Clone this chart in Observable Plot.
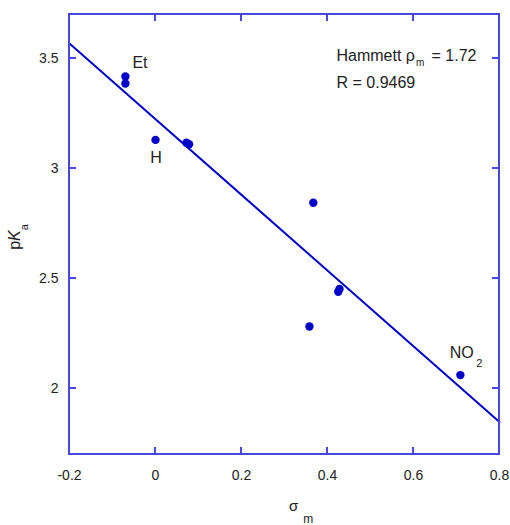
<!DOCTYPE html>
<html><head><meta charset="utf-8">
<script src="https://cdn.jsdelivr.net/npm/d3@7"></script>
<script src="https://cdn.jsdelivr.net/npm/@observablehq/plot@0.6"></script>
<style>body{margin:0;background:#fff;} svg{display:block}</style>
</head><body><div id="chart"></div>
<script>
// Data
const sigma = [-0.07, -0.07, 0, 0.072, 0.078, 0.367, 0.428, 0.425, 0.358, 0.709];
const pKa   = [3.418, 3.386, 3.13, 3.117, 3.11, 2.844, 2.452, 2.44, 2.282, 2.061];
const fitSigma = [-0.2, 0.8];
const fitPKa = [3.568, 1.848];
const labelNames = ["Et", "H", "NO"];
const labelSub = ["", "", "2"];
const labelSigma = [-0.07, 0, 0.709];
const labelPKa = [3.418, 3.13, 2.061];
const xTicks = [-0.2, 0, 0.2, 0.4, 0.6, 0.8];
const xTickLabels = ["-0.2", "0", "0.2", "0.4", "0.6", "0.8"];
const yTicks = [2, 2.5, 3, 3.5];
const yTickLabels = ["2", "2.5", "3", "3.5"];
const annotMain = ["Hammett \u03C1", "= 1.72", "R = 0.9469"];
const annotSub = ["m"];

const frameColor = "#4848e0";
const dataColor = "#0000c8";
const textColor = "#222";
const FONT = "'Liberation Sans', Arial, sans-serif";

const points = sigma.map((s, i) => ({s, p: pKa[i]}));
const fit = fitSigma.map((s, i) => ({s, p: fitPKa[i]}));
const labels = labelNames.map((n, i) => ({n, sub: labelSub[i], s: labelSigma[i], p: labelPKa[i]}));

const plot = Plot.plot({
  width: 510, height: 525,
  marginLeft: 69, marginRight: 11, marginTop: 14, marginBottom: 71,
  style: {fontFamily: FONT, fontSize: "14px", color: textColor, background: "#fff"},
  x: {domain: [-0.2, 0.8]},
  y: {domain: [1.7, 3.7]},
  marks: [
    Plot.axisX({anchor: "bottom", ticks: xTicks, tickSize: 0, tickPadding: 16, fill: textColor, label: null,
      tickFormat: d => xTickLabels[xTicks.indexOf(d)]}),
    Plot.axisY({anchor: "left", ticks: yTicks, tickSize: 0, tickPadding: 11, fill: textColor, label: null,
      tickFormat: d => yTickLabels[yTicks.indexOf(d)]}),
    Plot.line(fit, {x: "s", y: "p", stroke: dataColor, strokeWidth: 2}),
    Plot.dot(points, {x: "s", y: "p", r: 4.2, fill: dataColor, stroke: "none"}),
    // point labels
    Plot.text(labels.filter(d => d.n === "Et"), {x: "s", y: "p", text: "n", textAnchor: "start", dx: 7, dy: -14, fontSize: 16, fill: textColor}),
    Plot.text(labels.filter(d => d.n === "H"), {x: "s", y: "p", text: "n", textAnchor: "middle", dx: 0.5, dy: 18, fontSize: 16, fill: textColor}),
    Plot.text(labels.filter(d => d.n === "NO"), {x: "s", y: "p", text: "n", textAnchor: "start", dx: -10.7, dy: -22.7, fontSize: 16, fill: textColor}),
    Plot.text(labels.filter(d => d.sub !== ""), {x: "s", y: "p", text: "sub", textAnchor: "start", dx: 16, dy: -11.8, fontSize: 11, fill: textColor}),
    // annotation
    Plot.text([annotMain[0]], {frameAnchor: "top-left", text: d => d, textAnchor: "start", dx: 267, dy: 35.2, fontSize: 16, fill: textColor}),
    Plot.text(annotSub, {frameAnchor: "top-left", text: d => d, textAnchor: "start", dx: 346.5, dy: 44.8, fontSize: 10, fill: textColor}),
    Plot.text([annotMain[1]], {frameAnchor: "top-left", text: d => d, textAnchor: "start", dx: 362, dy: 35.2, fontSize: 16, fill: textColor}),
    Plot.text([annotMain[2]], {frameAnchor: "top-left", text: d => d, textAnchor: "start", dx: 267, dy: 62.6, fontSize: 16, fill: textColor})
  ]
});

const svg = d3.select(plot);
const xs = plot.scale("x"), ys = plot.scale("y");
const [x0, x1] = xs.range, [yb, yt] = ys.range;
const TL = 7;
// inward ticks on all four sides, positioned with Plot's scales
const tg = svg.append("g").attr("stroke", frameColor).attr("stroke-width", 2);
xTicks.forEach(v => {
  const x = xs.apply(v);
  tg.append("line").attr("x1", x).attr("x2", x).attr("y1", yb).attr("y2", yb - TL);
  tg.append("line").attr("x1", x).attr("x2", x).attr("y1", yt).attr("y2", yt + TL);
});
yTicks.forEach(v => {
  const y = ys.apply(v);
  tg.append("line").attr("y1", y).attr("y2", y).attr("x1", x0).attr("x2", x0 + TL);
  tg.append("line").attr("y1", y).attr("y2", y).attr("x1", x1).attr("x2", x1 - TL);
});
// frame
svg.append("rect").attr("x", x0).attr("y", yt).attr("width", x1 - x0).attr("height", yb - yt)
  .attr("fill", "none").attr("stroke", frameColor).attr("stroke-width", 2);

// y-axis label: pK_a (rotated)
const yl = svg.append("text")
  .attr("transform", "translate(20,237) rotate(-90)")
  .attr("text-anchor", "middle")
  .attr("fill", textColor)
  .style("font-family", FONT)
  .style("font-size", "16px");
yl.append("tspan").text("p");
yl.append("tspan").style("font-style", "italic").text("K");
yl.append("tspan").attr("dy", 8).style("font-size", "11px").text("a");

// x-axis label: sigma_m
const xl = svg.append("text")
  .attr("x", 289).attr("y", 511)
  .attr("text-anchor", "start")
  .attr("fill", textColor)
  .style("font-family", FONT)
  .style("font-size", "15px");
xl.append("tspan").text("\u03C3");
xl.append("tspan").attr("dx", 5).attr("dy", 12).style("font-size", "12px").text("m");

document.getElementById("chart").appendChild(plot);
</script>
</body></html>
